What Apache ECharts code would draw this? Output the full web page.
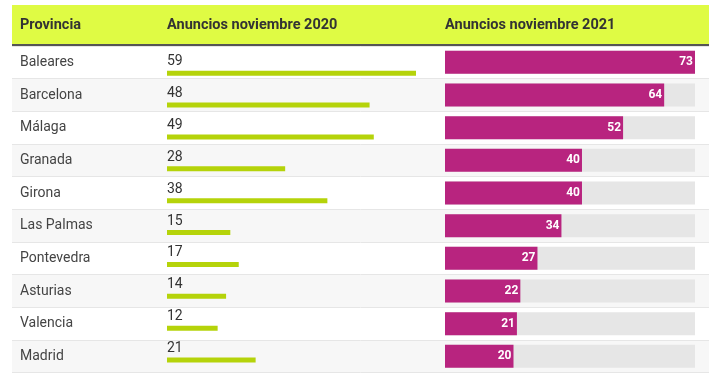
<!DOCTYPE html>
<html>
<head>
<meta charset="utf-8">
<script src="https://cdn.jsdelivr.net/npm/echarts@6/dist/echarts.min.js"></script>
<style>
  html, body { margin: 0; padding: 0; background: #fff; }
  #main { width: 725px; height: 376px; }
</style>
</head>
<body>
<div id="main"></div>
<script>
var provincias = ['Baleares', 'Barcelona', 'Málaga', 'Granada', 'Girona', 'Las Palmas', 'Pontevedra', 'Asturias', 'Valencia', 'Madrid'];
var anuncios2020 = [59, 48, 49, 28, 38, 15, 17, 14, 12, 21];
var anuncios2021 = [73, 64, 52, 40, 40, 34, 27, 22, 21, 20];
var cabeceras = ['Provincia', 'Anuncios noviembre 2020', 'Anuncios noviembre 2021'];

var myChart = echarts.init(document.getElementById('main'));

var rowTop = 46, rowHeight = 326.7;
var fuente = 'Roboto, sans-serif';

// ejes de categoría comunes
function catAxis(grid, withRows) {
    return {
        type: 'category',
        gridIndex: grid,
        data: provincias,
        inverse: true,
        axisLine: { show: false },
        axisTick: { show: false },
        axisLabel: withRows ? {
            inside: true,
            margin: 8,
            color: '#444',
            fontSize: 14,
            fontFamily: fuente
        } : { show: false },
        splitLine: withRows ? { show: true, lineStyle: { color: '#e6e6e6', width: 1 } } : { show: false },
        splitArea: withRows ? { show: true, areaStyle: { color: ['#ffffff', '#f7f7f7'] } } : { show: false }
    };
}

function valAxis(grid, max) {
    return {
        type: 'value',
        gridIndex: grid,
        min: 0,
        max: max,
        show: false,
        splitLine: { show: false }
    };
}

myChart.setOption({
    animation: false,
    graphic: [
        { type: 'rect', shape: { x: 12, y: 5, width: 697, height: 40 }, style: { fill: '#dffb44' }, z: 0 },
        { type: 'line', shape: { x1: 12, y1: 45, x2: 709, y2: 45 }, style: { stroke: '#555', lineWidth: 2 } },
        { type: 'text', x: 20, y: 25, style: { text: cabeceras[0], fill: '#333', font: 'bold 14.5px Roboto', textVerticalAlign: 'middle' } },
        { type: 'text', x: 167, y: 25, style: { text: cabeceras[1], fill: '#333', font: 'bold 14.5px Roboto', textVerticalAlign: 'middle' } },
        { type: 'text', x: 445, y: 25, style: { text: cabeceras[2], fill: '#333', font: 'bold 14.5px Roboto', textVerticalAlign: 'middle' } }
    ],
    grid: [
        { left: 12, width: 697, top: rowTop, height: rowHeight },
        { left: 167, width: 249, top: rowTop + 11.3, height: rowHeight },
        { left: 445, width: 250, top: rowTop, height: rowHeight }
    ],
    xAxis: [
        valAxis(0, 1),
        valAxis(1, Math.max.apply(null, anuncios2020)),
        valAxis(2, Math.max.apply(null, anuncios2021))
    ],
    yAxis: [
        catAxis(0, true),
        catAxis(1, false),
        catAxis(2, false)
    ],
    series: [
        {
            name: 'Anuncios noviembre 2020',
            type: 'bar',
            xAxisIndex: 1,
            yAxisIndex: 1,
            data: anuncios2020,
            barWidth: 5,
            itemStyle: { color: '#b5d30a' },
            label: {
                show: true,
                position: [0, -9],
                align: 'left',
                verticalAlign: 'middle',
                color: '#333',
                fontSize: 14,
                fontFamily: fuente
            }
        },
        {
            name: 'Anuncios noviembre 2021',
            type: 'bar',
            xAxisIndex: 2,
            yAxisIndex: 2,
            data: anuncios2021,
            barWidth: 23,
            showBackground: true,
            backgroundStyle: { color: '#e6e6e6' },
            itemStyle: { color: '#b8247f' },
            label: {
                show: true,
                position: 'insideRight',
                distance: 2,
                color: '#fff',
                fontWeight: 'bold',
                fontSize: 12,
                fontFamily: fuente
            }
        }
    ]
});
</script>
</body>
</html>
